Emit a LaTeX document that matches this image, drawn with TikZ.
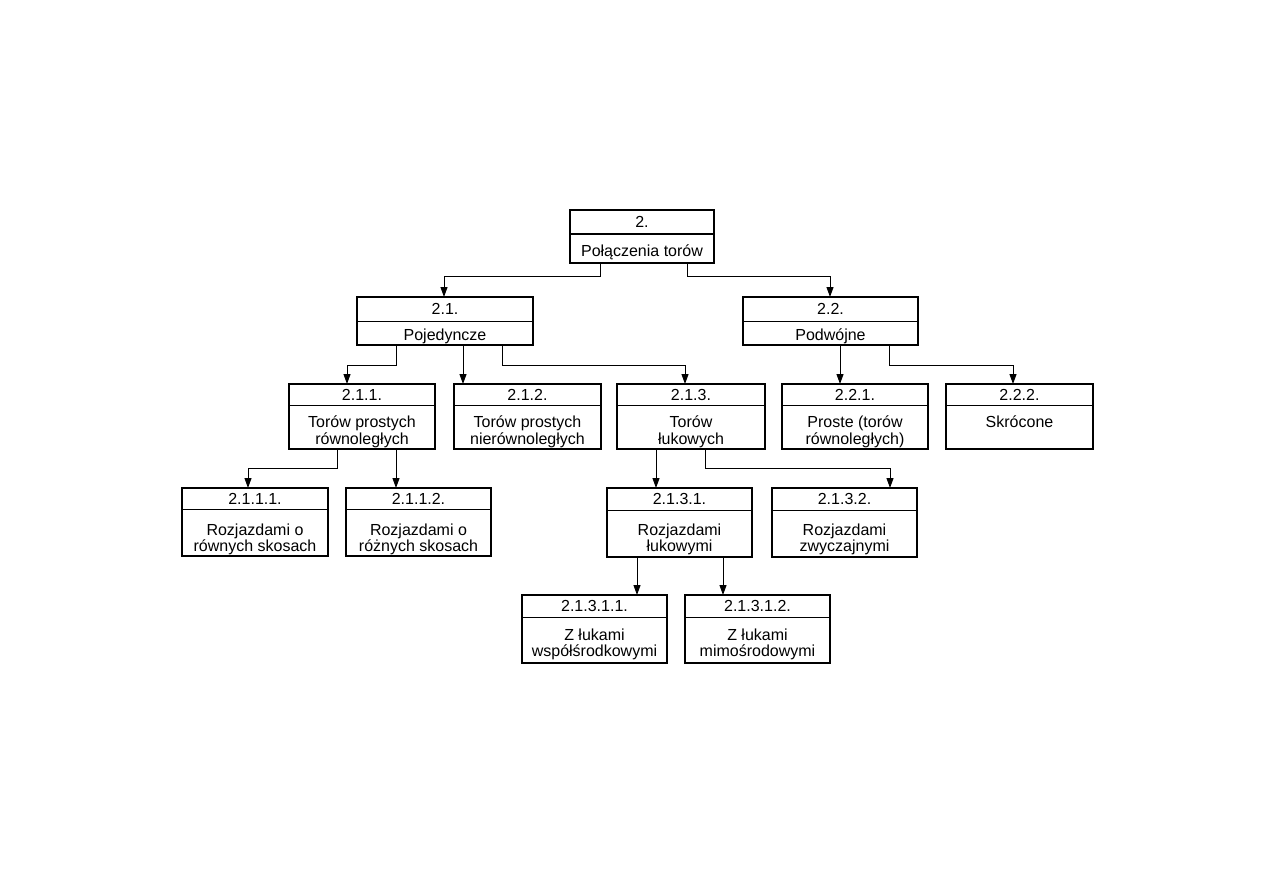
\documentclass[tikz,border=0pt]{standalone}
\usepackage{fontspec}
\setmainfont{Liberation Sans}
\usetikzlibrary{arrows.meta,fit}
\tikzset{
  tbx/.style={draw, line width=1.2pt, inner sep=0pt, outer sep=0pt},
  rootbx/.style={tbx, line width=2.6pt},
  divl/.style={line width=1pt},
  txt/.style={anchor=base, inner sep=0pt, font=\fontsize{16}{17}\selectfont},
  arr/.style={line width=1pt, -{Triangle[length=10pt,width=7pt]}},
}
% style, name, x1, y1, x2, y2, divider y, number
\newcommand\mkbox[8]{%
  \node[#1, fit={(#3,#4) (#5,#6)}] (#2) {};
  \draw[divl] (#3,#7) -- (#5,#7);
  \pgfmathsetmacro\numoff{(#7-#4)/2+5.75}
  \node[txt] (#2-n) at ([yshift={-\numoff*1pt}]#2.north) {#8};
}
% name, suffix, offset from top, text
\newcommand\mkline[4]{%
  \node[txt] (#1-#2) at ([yshift=-#3pt]#1.north) {#4};
}
\begin{document}
\begin{tikzpicture}[x=1pt,y=-1pt]
\path[fill=white] (0,0) rectangle (1263,893);
\useasboundingbox (0,0) rectangle (1263,893);

\begin{scope}[divl/.style={line width=2pt}]
\mkbox{rootbx}{root}{570}{210}{714}{263}{234}{2.}
\end{scope}
\mkline{root}{a}{47}{Połączenia torów}

\mkbox{tbx}{n21}{357}{297}{533}{345}{321}{2.1.}
\mkline{n21}{a}{43}{Pojedyncze}
\mkbox{tbx}{n22}{743}{297}{918}{345}{321}{2.2.}
\mkline{n22}{a}{43}{Podwójne}

\mkbox{tbx}{n211}{289}{384}{435}{449}{405}{2.1.1.}
\mkline{n211}{a}{43}{Torów prostych}
\mkline{n211}{b}{60}{równoległych}
\mkbox{tbx}{n212}{454}{384}{601}{449}{405}{2.1.2.}
\mkline{n212}{a}{43}{Torów prostych}
\mkline{n212}{b}{60}{nierównoległych}
\mkbox{tbx}{n213}{617}{384}{765}{449}{405}{2.1.3.}
\mkline{n213}{a}{43}{Torów}
\mkline{n213}{b}{60}{łukowych}
\mkbox{tbx}{n221}{782}{384}{928}{449}{405}{2.2.1.}
\mkline{n221}{a}{43}{Proste (torów}
\mkline{n221}{b}{60}{równoległych)}
\mkbox{tbx}{n222}{946}{384}{1093}{449}{405}{2.2.2.}
\mkline{n222}{a}{43}{Skrócone}

\mkbox{tbx}{n2111}{182}{488}{328}{556}{509}{2.1.1.1.}
\mkline{n2111}{a}{47}{Rozjazdami o}
\mkline{n2111}{b}{63}{równych skosach}
\mkbox{tbx}{n2112}{346}{488}{491}{556}{509}{2.1.1.2.}
\mkline{n2112}{a}{47}{Rozjazdami o}
\mkline{n2112}{b}{63}{różnych skosach}
\mkbox{tbx}{n2131}{607}{488}{752}{557}{510}{2.1.3.1.}
\mkline{n2131}{a}{47}{Rozjazdami}
\mkline{n2131}{b}{63}{łukowymi}
\mkbox{tbx}{n2132}{772}{488}{917}{557}{510}{2.1.3.2.}
\mkline{n2132}{a}{47}{Rozjazdami}
\mkline{n2132}{b}{63}{zwyczajnymi}

\mkbox{tbx}{n21311}{522}{595}{667}{663}{617}{2.1.3.1.1.}
\mkline{n21311}{a}{45}{Z łukami}
\mkline{n21311}{b}{61}{współśrodkowymi}
\mkbox{tbx}{n21312}{685}{595}{830}{663}{617}{2.1.3.1.2.}
\mkline{n21312}{a}{45}{Z łukami}
\mkline{n21312}{b}{61}{mimośrodowymi}

% connectors
\draw[arr] ([xshift=30pt]root.south west) |- (444,277) -- ([xshift=87pt]n21.north west);
\draw[arr] ([xshift=117pt]root.south west) |- (830,277) -- ([xshift=87pt]n22.north west);
\draw[arr] ([xshift=39pt]n21.south west) |- (347,365) -- ([xshift=58pt]n211.north west);
\draw[arr] ([xshift=106pt]n21.south west) -- ([xshift=9pt]n212.north west);
\draw[arr] ([xshift=145pt]n21.south west) |- (685,365) -- ([xshift=68pt]n213.north west);
\draw[arr] ([xshift=97pt]n22.south west) -- ([xshift=58pt]n221.north west);
\draw[arr] ([xshift=146pt]n22.south west) |- (1013,365) -- ([xshift=67pt]n222.north west);
\draw[arr] ([xshift=48pt]n211.south west) |- (248,468) -- ([xshift=66pt]n2111.north west);
\draw[arr] ([xshift=107pt]n211.south west) -- ([xshift=50pt]n2112.north west);
\draw[arr] ([xshift=39pt]n213.south west) -- ([xshift=49pt]n2131.north west);
\draw[arr] ([xshift=88pt]n213.south west) |- (890,468) -- ([xshift=118pt]n2132.north west);
\draw[arr] ([xshift=30pt]n2131.south west) -- ([xshift=115pt]n21311.north west);
\draw[arr] ([xshift=116pt]n2131.south west) -- ([xshift=38pt]n21312.north west);
\end{tikzpicture}
\end{document}
